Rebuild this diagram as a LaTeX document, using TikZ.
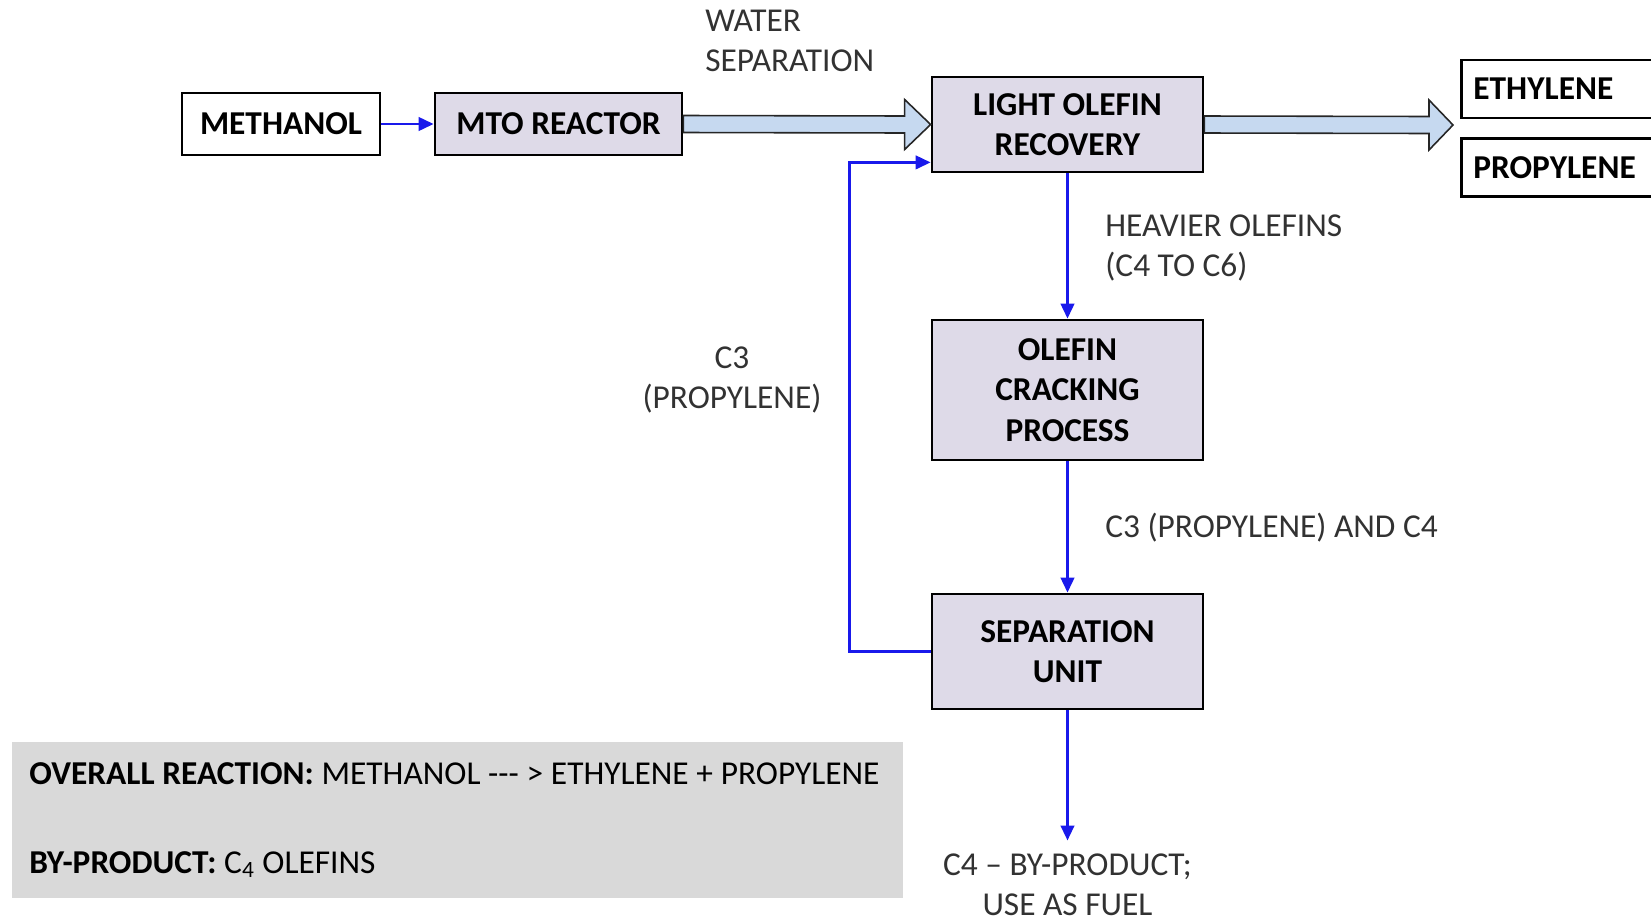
\documentclass[tikz,border=0pt]{standalone}
\usepackage{fontspec}
\setmainfont{Carlito}
\usepackage{tikz}
\usetikzlibrary{arrows.meta, calc}
\definecolor{BoxFill}   {RGB}{222, 218, 232}
\definecolor{StreamBlue}{RGB}{198, 217, 240}
\definecolor{FlowBlue}  {RGB}{25,  25,  235}
\definecolor{NoteGray}  {RGB}{217, 217, 217}
\definecolor{LabelGray} {RGB}{50,  50,  50}

\begin{document}
\begin{tikzpicture}[
  x=0.02cm, y=-0.02cm,
  box/.style = {
    rectangle, draw, line width=1.6pt,
    fill=BoxFill, align=center, inner sep=0pt,
    font=\fontsize{19}{23}\selectfont\bfseries
  },
  prodbox/.style = {
    rectangle, draw, line width=1.6pt, fill=white,
    anchor=west, minimum width=4.6cm, minimum height=1.16cm,
    text width=4.2cm, align=left, inner xsep=0.24cm,
    font=\fontsize{19}{23}\selectfont\bfseries
  },
  lbl/.style = {
    font=\fontsize{19}{23}\selectfont, color=LabelGray, inner sep=0pt
  },
  summary/.style = {
    rectangle, fill=NoteGray, anchor=north west,
    minimum width=17.82cm, minimum height=3.12cm,
    text width=17.14cm, align=left, inner xsep=0.34cm,
    font=\fontsize{19}{23}\selectfont
  },
  bigarrow/.style = {fill=StreamBlue, draw=black!85, line width=0.9pt, line join=miter},
  flow/.style = {-{Triangle[length=0.3cm, width=0.27cm]}, line width=1.5pt, color=FlowBlue}
]
\useasboundingbox (0,0) rectangle (1651,920);

% Feed and reactor
\node[box, fill=white, minimum width=3.96cm, minimum height=1.24cm] (methanol) at (281,124) {METHANOL};
\node[box, minimum width=4.94cm, minimum height=1.24cm] (mto) at (558.5,124) {MTO REACTOR};

\draw[flow] (methanol) -- (mto);

% Recovery train
\node[box, minimum width=5.42cm, minimum height=1.9cm] (lor) at (1067.5,124.5)
  {LIGHT OLEFIN\\RECOVERY};
\node[box, minimum width=5.42cm, minimum height=2.8cm] (occ) at (1067.5,390)
  {OLEFIN\\CRACKING\\PROCESS};
\node[box, minimum width=5.42cm, minimum height=2.3cm] (sep) at (1067.5,651.5)
  {SEPARATION\\UNIT};

% Products
\node[prodbox] (ethylene) at (1460,89) {ETHYLENE};
\node[prodbox] (propylene) at (1460,167.5) {PROPYLENE};
\coordinate (products) at (1453,125);

% Reactor effluent (water separation)
\draw[bigarrow] ($(mto.east)+(0,-8.5)$) -- ($(lor.west)+(-26,-8.5)$)
  -- ($(lor.west)+(-26,-25)$) -- (lor.west) -- ($(lor.west)+(-26,25)$)
  -- ($(lor.west)+(-26,8.5)$) -- ($(mto.east)+(0,8.5)$) -- cycle;
\node[lbl, anchor=west, align=left] (water) at (705,41) {WATER\\SEPARATION};

% Light olefins out
\draw[bigarrow] ($(lor.east)+(0,-8.5)$) -- ($(products)+(-24,-8.5)$)
  -- ($(products)+(-24,-25)$) -- (products) -- ($(products)+(-24,25)$)
  -- ($(products)+(-24,8.5)$) -- ($(lor.east)+(0,8.5)$) -- cycle;

% Heavier olefins to cracking
\draw[flow] (lor) -- (occ);
\node[lbl, anchor=west, align=left] (heavy) at (1105,248) {HEAVIER OLEFINS\\(C4 TO C6)};

\draw[flow] (occ) -- (sep);
\node[lbl, anchor=west] (c3c4) at (1105,528) {C3 (PROPYLENE) AND C4};

% C3 recycle
\draw[flow] (sep.west) -- ++(-81,0) |- ($(lor.south west)+(0,-11)$);
\node[lbl, align=center] (recycle) at (732,380) {C3\\(PROPYLENE)};

% By-product
\node[lbl, align=center] (fuel) at (1067.5,885) {C4 -- BY-PRODUCT;\\USE AS FUEL};
\draw[flow, shorten >=0.26cm] (sep) -- (fuel);

% Summary
\node[summary] (note) at (12,742) {\spaceskip=4.4pt plus 1pt\relax
  \mbox{\textbf{OVERALL REACTION:} METHANOL {-}{-}{-} > ETHYLENE + PROPYLENE}\\[0.96cm]
  \textbf{BY-PRODUCT:} C\textsubscript{4} OLEFINS
};

\end{tikzpicture}
\end{document}
